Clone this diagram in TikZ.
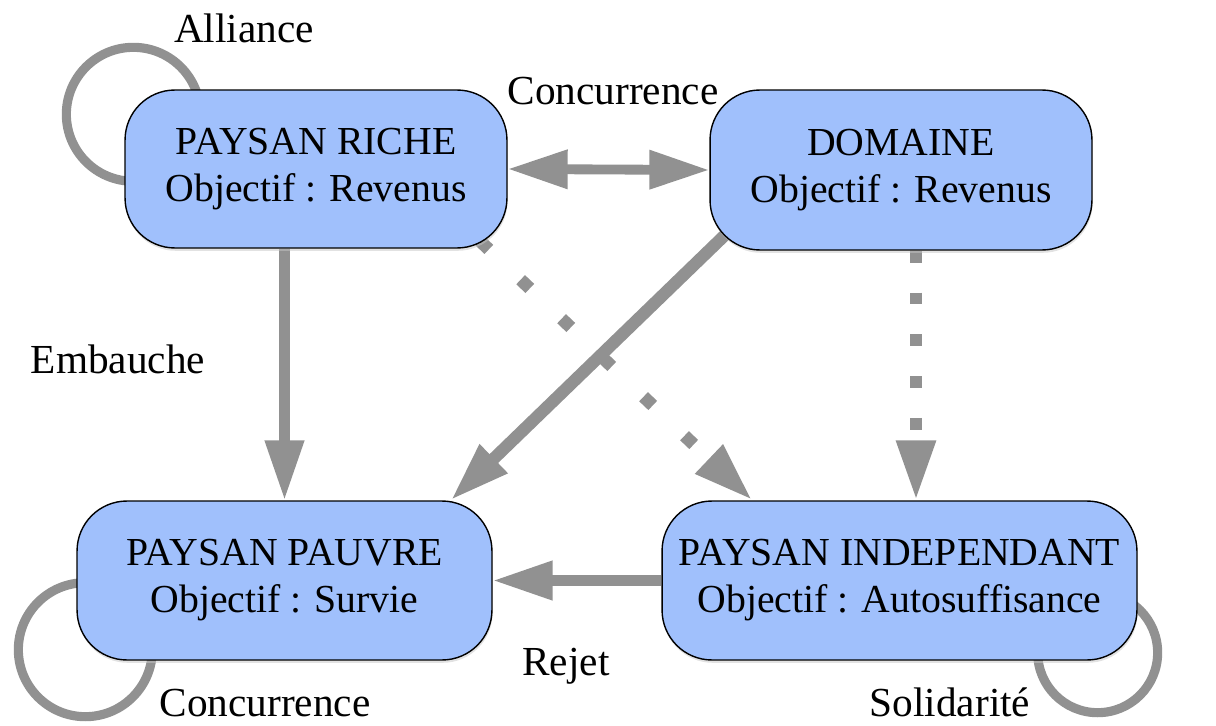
\documentclass[tikz,border=0pt]{standalone}
\usepackage{fontspec}
\setmainfont{Liberation Serif}
\usetikzlibrary{arrows.meta,backgrounds,shadows}
\definecolor{bleunoeud}{RGB}{160,192,252}
\definecolor{grislien}{RGB}{145,145,145}
\tikzset{
    etat/.style={draw=black, line width=0.8pt, fill=bleunoeud, rounded corners=1cm,
        align=center, inner sep=0pt,
        drop shadow={shadow xshift=0.4pt, shadow yshift=-1.6pt, fill=gray!45},
        font=\fontsize{22.6}{26.7}\selectfont},
    lien/.style={draw=grislien, line width=6pt, ->},
    pointille/.style={draw=grislien, line width=6.8pt, ->, dash pattern=on 6.8pt off 17pt},
    boucle/.style={draw=grislien, line width=5.2pt},
    etiquette/.style={font=\fontsize{23.5}{28}\selectfont, anchor=base, inner sep=0pt}
}
\begin{document}
\begin{tikzpicture}[x=0.02cm, y=-0.02cm, >={Triangle[length=1.2cm,width=0.74cm]}]
    \useasboundingbox (0,0) rectangle (1216,726);

    % Etats
    \node[etat, minimum width=7.64cm, minimum height=3.16cm] (riche) at (316,169) {PAYSAN RICHE\\Objectif : Revenus};
    \node[etat, minimum width=7.64cm, minimum height=3.2cm] (domaine) at (901,170) {DOMAINE\\Objectif : Revenus};
    \node[etat, minimum width=8.3cm, minimum height=3.18cm] (pauvre) at (284.5,580.5) {PAYSAN PAUVRE\\Objectif : Survie};
    \node[etat, minimum width=9.5cm, minimum height=3.18cm] (indep) at (899.5,580.5) {PAYSAN INDEPENDANT\\Objectif : Autosuffisance};

    \begin{scope}[on background layer]
        % Boucles
        \draw[boucle] ([shift={(9,25)}]riche.north west) circle[radius=1.34cm];
        \draw[boucle] ([shift={(9,-11)}]pauvre.south west) circle[radius=1.34cm];
        \draw[boucle] ([shift={(-40,-8)}]indep.south east) circle[radius=1.2cm];

        % Liens
        \draw[lien, <->, line width=5.6pt] (riche.east) -- (domaine.west);
        \draw[lien] (pauvre.north |- riche.south) -- (pauvre.north);
        \draw[lien] (indep.west) -- (pauvre.east);
        \draw[pointille] ([shift={(15,0)}]domaine.south) -- ([shift={(15,0)}]domaine.south |- indep.north);
        \draw[pointille, line width=7.2pt, dash pattern=on 7.2pt off 25pt] ([shift={(-28,-8)}]riche.south east) -- ([shift={(91,0)}]indep.north west);
        \draw[lien, line width=7pt] ([shift={(17,-17)}]domaine.south west) -- ([shift={(-42,0)}]pauvre.north east);
    \end{scope}

    % Etiquettes
    \node[etiquette] (alliance) at (244,43) {Alliance};
    \node[etiquette] (concA) at (613,105) {Concurrence};
    \node[etiquette] (embauche) at (118,373) {Embauche};
    \node[etiquette] (rejet) at (566,675) {Rejet};
    \node[etiquette] (concB) at (265,716) {Concurrence};
    \node[etiquette] (solidarite) at (950,716) {Solidarité};
\end{tikzpicture}
\end{document}
